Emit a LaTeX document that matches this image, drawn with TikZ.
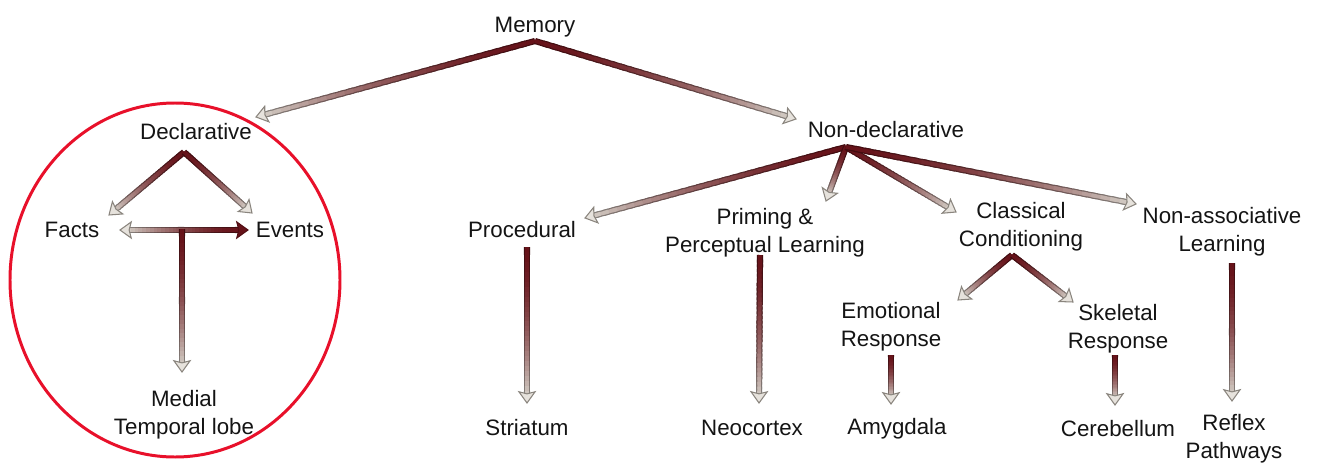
\documentclass[tikz,border=0pt]{standalone}
\usepackage{fontspec}
\setmainfont{Liberation Sans}
\usetikzlibrary{calc}

\definecolor{ink}{HTML}{141414}
\definecolor{wine}{HTML}{661219}
\definecolor{ash}{HTML}{D2CCC4}
\definecolor{headfill}{HTML}{E6E2DC}
\definecolor{headedge}{HTML}{8A857E}
\definecolor{ringred}{HTML}{E8102A}

% label text: first line always starts with a fixed-height strut so that
% the north anchor sits a known distance above the first baseline
\newcommand\tstrut{\rule{0pt}{10pt}}
\def\lblraise{17.6}

\tikzset{
  lbl/.style={font=\fontsize{12.7}{16.2}\selectfont, text=ink, align=center,
              inner sep=0pt, anchor=north},
  shaftedge/.style={line width=3.5pt},
  shaftcore/.style={line width=2.1pt},
  ring/.style={draw=ringred, line width=1.7pt},
}

\def\nseg{30}
% shaft with a colour gradient from #1 (colour #3) to #2 (colour #4);
% the start colour holds on for a while before fading
\newcommand\shadeline[4]{%
  \foreach \k in {1,...,\nseg}{%
    \pgfmathsetmacro\pa{(\k-1)/\nseg}%
    \pgfmathsetmacro\pb{min(1,(\k+0.6)/\nseg)}%
    \pgfmathtruncatemacro\pc{round(100*(1-((\k-0.5)/\nseg)^1.7))}%
    \draw[shaftedge, draw=#3!\pc!#4!65!black] ($(#1)!\pa!(#2)$) -- ($(#1)!\pb!(#2)$);
  }%
  \foreach \k in {1,...,\nseg}{%
    \pgfmathsetmacro\pa{(\k-1)/\nseg}%
    \pgfmathsetmacro\pb{min(1,(\k+0.6)/\nseg)}%
    \pgfmathtruncatemacro\pc{round(100*(1-((\k-0.5)/\nseg)^1.7))}%
    \draw[shaftcore, draw=#3!\pc!#4] ($(#1)!\pa!(#2)$) -- ($(#1)!\pb!(#2)$);
  }%
}
% triangular head at #2 pointing away from #1
\newcommand\tiphead[4]{%
  \coordinate (th-b) at ($(#2)!6.4pt!(#1)$);
  \coordinate (th-n) at ($(#2)!5.2pt!(#1)$);
  \draw[draw=#4, fill=#3, line width=0.6pt, line join=miter]
    (#2) -- ($(th-b)!4.6pt!90:(#2)$) -- (th-n) -- ($(th-b)!4.6pt!-90:(#2)$) -- cycle;
}
% dark-to-light arrow from #1 to #2
\newcommand\gradarrow[2]{%
  \coordinate (ga-end) at ($(#2)!4pt!(#1)$);
  \shadeline{#1}{ga-end}{wine}{ash}
  \tiphead{#1}{#2}{headfill}{headedge}
}

\begin{document}
\begin{tikzpicture}[x=0.02cm, y=-0.02cm]
\useasboundingbox (0,0) rectangle (1318,463);

% ---- labels ----
\node[lbl] (mem)      at (535, 32-\lblraise)  {\tstrut Memory};
\node[lbl] (decl)     at (196, 139-\lblraise) {\tstrut Declarative};
\node[lbl] (nondecl)  at (886, 137-\lblraise) {\tstrut Non-declarative};
\node[lbl] (facts)    at (72, 237-\lblraise)  {\tstrut Facts};
\node[lbl] (events)   at (290, 237-\lblraise) {\tstrut Events};
\node[lbl] (mtl)      at (184, 406-\lblraise) {\tstrut Medial\\Temporal lobe};
\node[lbl] (proc)     at (522, 237-\lblraise) {\tstrut Procedural};
\node[lbl] (prim)     at (765, 224-\lblraise) {\tstrut Priming \&\\Perceptual Learning};
\node[lbl] (class)    at (1021, 218-\lblraise) {\tstrut Classical\\Conditioning};
\node[lbl] (nonassoc) at (1222, 223-\lblraise) {\tstrut Non-associative\\Learning};
\node[lbl] (emo)      at (891, 318-\lblraise) {\tstrut Emotional\\Response};
\node[lbl] (skel)     at (1118, 320-\lblraise) {\tstrut Skeletal\\Response};
\node[lbl] (stri)     at (527, 435-\lblraise) {\tstrut Striatum};
\node[lbl] (neo)      at (752, 435-\lblraise) {\tstrut Neocortex};
\node[lbl] (amy)      at (897, 434-\lblraise) {\tstrut Amygdala};
\node[lbl] (cere)     at (1118, 436-\lblraise) {\tstrut Cerebellum};
\node[lbl] (reflex)   at (1234, 430-\lblraise) {\tstrut Reflex\\Pathways};

% ---- branching points and arrow ends ----
\coordinate (mem-j)    at (535,41);
\coordinate (decl-in)  at (256,117);
\coordinate (nond-in)  at (796,119);
\coordinate (decl-j)   at (184,152);
\coordinate (facts-in) at (109,215);
\coordinate (ev-in)    at (252,213);
\coordinate (fe-l)     at (120,230);
\coordinate (fe-r)     at (248,230);
\coordinate (fe-m)     at (182,229);
\coordinate (mtl-in)   at (182,372);
\coordinate (nond-j)   at (846,147);
\coordinate (proc-in)  at (585,218);
\coordinate (prim-in)  at (826,201);
\coordinate (class-in) at (956,212);
\coordinate (nona-in)  at (1136,204);
\coordinate (proc-out) at (527,247);
\coordinate (stri-in)  at (527,403);
\coordinate (prim-out) at (760,255);
\coordinate (neo-in)   at (759,403);
\coordinate (class-j)  at (1012,255);
\coordinate (emo-in)   at (958,300);
\coordinate (skel-in)  at (1073,302);
\coordinate (emo-out)  at (891,355);
\coordinate (amy-in)   at (891,404);
\coordinate (skel-out) at (1115,355);
\coordinate (cere-in)  at (1115,405);
\coordinate (nona-out) at (1232,263);
\coordinate (refl-in)  at (1232,401);

% ---- connectors ----
\gradarrow{mem-j}{decl-in}
\gradarrow{mem-j}{nond-in}
\gradarrow{decl-j}{facts-in}
\gradarrow{decl-j}{ev-in}

% Facts <-> Events, light on the left and dark on the right
\coordinate (fe-ls) at ($(fe-l)!4pt!(fe-r)$);
\coordinate (fe-rs) at ($(fe-r)!4pt!(fe-l)$);
\shadeline{fe-rs}{fe-ls}{wine}{ash}
\tiphead{fe-r}{fe-l}{headfill}{headedge}
\tiphead{fe-l}{fe-r}{wine}{wine!80!black}
\gradarrow{fe-m}{mtl-in}

\gradarrow{nond-j}{proc-in}
\gradarrow{nond-j}{prim-in}
\gradarrow{nond-j}{class-in}
\gradarrow{nond-j}{nona-in}
\gradarrow{proc-out}{stri-in}
\gradarrow{prim-out}{neo-in}
\gradarrow{class-j}{emo-in}
\gradarrow{class-j}{skel-in}
\gradarrow{emo-out}{amy-in}
\gradarrow{skel-out}{cere-in}
\gradarrow{nona-out}{refl-in}

% ---- highlight ring around the declarative branch ----
\draw[ring] (175,280) ellipse [x radius=165, y radius=177];
\end{tikzpicture}
\end{document}
